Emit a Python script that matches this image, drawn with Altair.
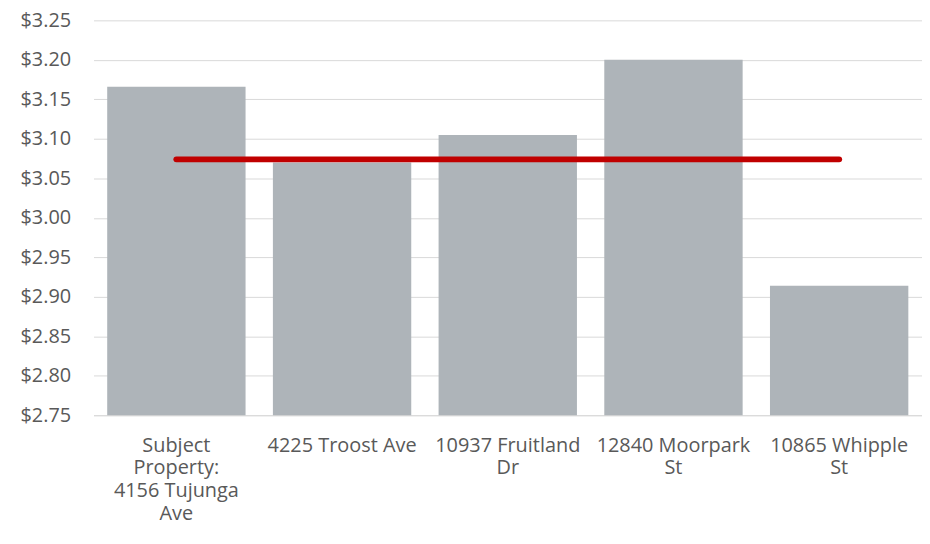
import altair as alt
import pandas as pd

categories = ["Subject Property: 4156 Tujunga Ave", "4225 Troost Ave", "10937 Fruitland Dr",
              "12840 Moorpark St", "10865 Whipple St"]
label_lines = [["Subject", "Property:", "4156 Tujunga", "Ave"], ["4225 Troost Ave"],
               ["10937 Fruitland", "Dr"], ["12840 Moorpark", "St"], ["10865 Whipple", "St"]]
values = [3.166, 3.070, 3.105, 3.200, 2.914]
average = 3.074
y_ticks = [2.75, 2.80, 2.85, 2.90, 2.95, 3.00, 3.05, 3.10, 3.15, 3.20, 3.25]

df = pd.DataFrame({"cat": categories, "value": values, "avg": [average] * len(categories)})

expr = "datum.label"
for c, lines in reversed(list(zip(categories, label_lines))):
    arr = "[" + ",".join("'" + l + "'" for l in lines) + "]"
    expr = f"datum.value == '{c}' ? {arr} : ({expr})"

FONT = "Open Sans"
FS = 20
x_axis = alt.Axis(labelAngle=0, labelExpr=expr, labelFontSize=FS, labelColor="#595959",
                  labelFont=FONT, labelLineHeight=23, labelPadding=20, ticks=False,
                  domainColor="#d9d9d9", domainWidth=1, labelLimit=300, title=None)
y_axis = alt.Axis(values=y_ticks, format="$.2f", labelFontSize=FS, labelColor="#595959",
                  labelFont=FONT, ticks=False, domain=False, labelPadding=23,
                  labelOverlap=False, gridColor="#d9d9d9", gridWidth=1, title=None)
x_scale = alt.Scale(paddingInner=0.165, paddingOuter=0.0825)
y_scale = alt.Scale(domain=[y_ticks[0], y_ticks[-1]], nice=False, zero=False)

bars = alt.Chart(df).mark_bar(color="#aeb4b9").encode(
    x=alt.X("cat:N", sort=categories, scale=x_scale, axis=x_axis),
    y=alt.Y("value:Q", scale=y_scale, axis=y_axis),
    y2=alt.Y2Datum(y_ticks[0]),
)
line = alt.Chart(df).mark_line(color="#c00000", strokeWidth=6, strokeCap="round").encode(
    x=alt.X("cat:N", sort=categories, scale=x_scale, axis=x_axis),
    y=alt.Y("avg:Q", scale=y_scale, axis=y_axis),
)

chart = alt.layer(bars, line).properties(
    width=833, height=397,
    autosize=alt.AutoSizeParams(type="none"),
    padding={"left": 86, "top": 11, "right": 0, "bottom": 120},
).configure_view(stroke=None)

chart.save("out.html", embed_options={"renderer": "svg", "actions": False})
